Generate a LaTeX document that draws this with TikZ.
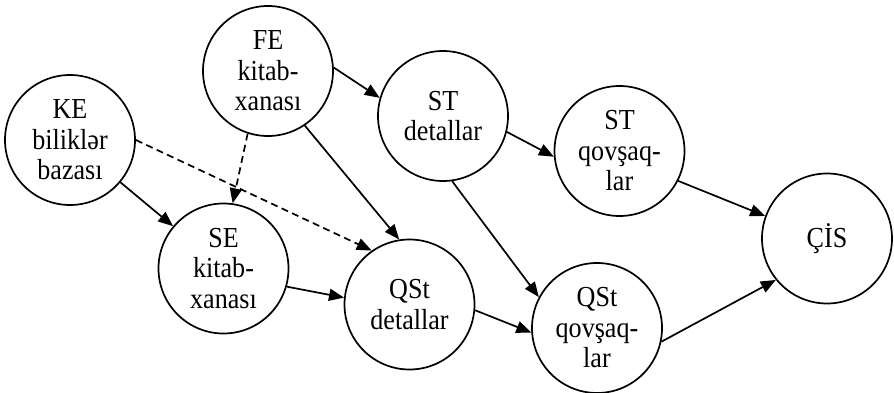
\documentclass[tikz,border=0pt]{standalone}
\usepackage{fontspec}
\newfontfamily\tmsfont[FakeStretch=0.9]{Liberation Serif}
\usetikzlibrary{arrows.meta}
\begin{document}
\begin{tikzpicture}[x=1pt,y=-1pt,
  nd/.style={circle,draw,line width=1.7pt,minimum size=130pt,inner sep=0pt,align=center,
    font=\tmsfont\fontsize{29}{30.5}\selectfont},
  ar/.style={line width=1.7pt,-{Triangle[length=15pt,width=12pt]}},
  dsh/.style={ar,dash pattern=on 7pt off 4.5pt}]
\useasboundingbox (0,0) rectangle (894,393);
\node[nd] (KE) at (70,140) {KE\\biliklər\\bazası};
\node[nd] (FE) at (268,71) {FE\\kitab-\\xanası};
\node[nd] (STd) at (443,116) {ST\\detallar};
\node[nd] (STq) at (619.5,151) {ST\\qovşaq-\\lar};
\node[nd] (CIS) at (827,238.5) {ÇİS};
\node[nd] (SE) at (223.5,268.5) {SE\\kitab-\\xanası};
\node[nd] (QSd) at (409.5,304.5) {QSt\\detallar};
\node[nd] (QSq) at (597,328) {QSt\\qovşaq-\\lar};
\draw[ar] (FE.3.5) -- (STd.164.7);
\draw[dsh] (FE.252) -- (SE.82.6);
\draw[dsh] (KE.0) -- (QSd.125.5);
\draw[ar] (KE.-40) -- (SE.140.6);
\draw[ar] (FE.-56.3) -- (QSd.99.8);
\draw[ar] (SE.-16) -- (QSd.174.4);
\draw[ar] (STd.-14.4) -- (STq.185);
\draw[ar] (STd.-82) -- (QSq.152.3);
\draw[ar] (QSd.-5.5) -- (QSq.184.4);
\draw[ar] (STq.-27.9) -- (CIS.160.6);
\draw[ar] (QSq.-12) -- (CIS.219.6);
\end{tikzpicture}
\end{document}
